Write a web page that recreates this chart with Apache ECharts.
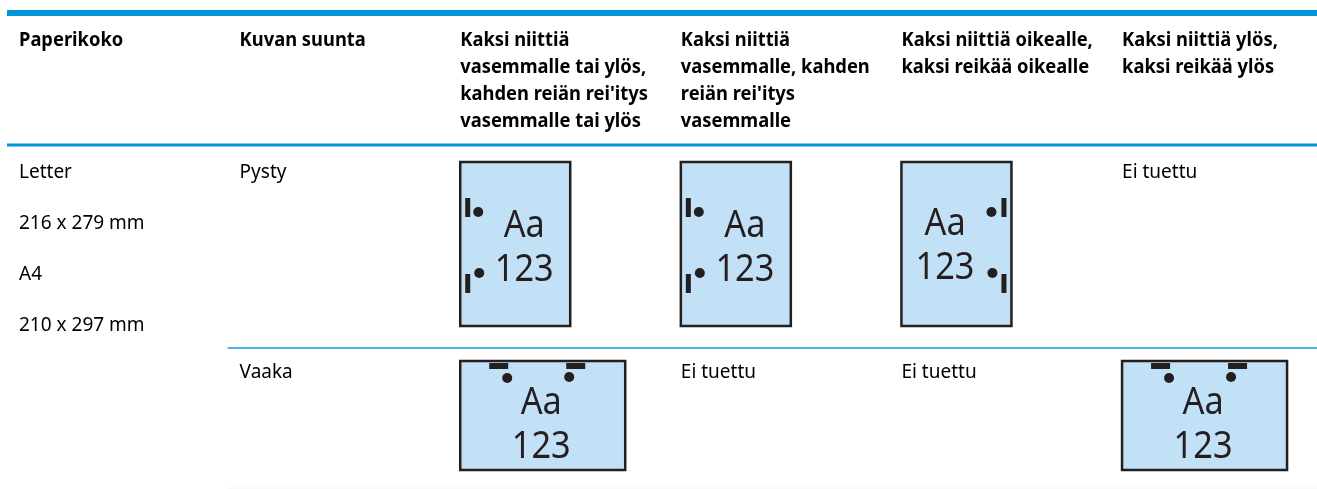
<!DOCTYPE html>
<html>
<head>
<meta charset="utf-8">
<style>
  html, body { margin: 0; padding: 0; background: #fff; }
  #main { width: 1317px; height: 489px; }
</style>
<script src="https://cdn.jsdelivr.net/npm/echarts@6/dist/echarts.min.js"></script>
</head>
<body>
<div id="main"></div>
<script>
// table content
const columnHeaders = [
  ['Paperikoko'],
  ['Kuvan suunta'],
  ['Kaksi niittiä', 'vasemmalle tai ylös,', 'kahden reiän rei\'itys', 'vasemmalle tai ylös'],
  ['Kaksi niittiä', 'vasemmalle, kahden', 'reiän rei\'itys', 'vasemmalle'],
  ['Kaksi niittiä oikealle,', 'kaksi reikää oikealle'],
  ['Kaksi niittiä ylös,', 'kaksi reikää ylös']
];
const paperSizes = ['Letter', '216 x 279 mm', 'A4', '210 x 297 mm'];
const orientations = ['Pysty', 'Vaaka'];
const iconLabels = ['Aa', '123'];
const notSupported = 'Ei tuettu';
// one list per orientation, one entry per finishing column
const portraitCells = ['left', 'left', 'right', 'none'];
const landscapeCells = ['top', 'none', 'none', 'top'];

// layout, px in the y axis units
const rowTop = [16, 147, 347];
const ruleY = [13, 145, 348, 488];
const X_MAX = 5.938;
const INK = '#231f20';
const PAGE = '#c2e0f6';
const BODY_FONT = '"Noto Sans"';

const rect = (x, y, width, height, style) => ({ type: 'rect', shape: { x, y, width, height }, style });
const dot = (cx, cy) => ({ type: 'circle', shape: { cx, cy, r: 5 }, style: { fill: INK } });
const label = (text, x, y, style, scaleX) => ({
  type: 'text', x, y, scaleX: scaleX || 1,
  style: Object.assign({ text, fill: '#000', textVerticalAlign: 'middle', fontFamily: BODY_FONT, fontSize: 19 }, style)
});

const pageIcon = (kind) => {
  const glyph = { fill: INK, fontSize: 39, fontFamily: BODY_FONT, textAlign: 'center' };
  if (kind === 'top') {
    return [
      rect(12, 14, 165, 109, { fill: PAGE, stroke: INK, lineWidth: 2.5 }),
      rect(41, 16, 19, 6, { fill: INK }),
      rect(118, 16, 19, 6, { fill: INK }),
      dot(59, 31), dot(121, 30),
      label(iconLabels[0], 93, 56, glyph, 0.88),
      label(iconLabels[1], 93, 100, glyph, 0.88)
    ];
  }
  const right = kind === 'right';
  const cx = right ? 55.6 : 76;
  return [
    rect(12, 15, 110, 164, { fill: PAGE, stroke: INK, lineWidth: 2.5 }),
    rect(right ? 112 : 17, 51, 5, 19, { fill: INK }),
    rect(right ? 112 : 17, 127, 5, 19, { fill: INK }),
    dot(right ? 102 : 30, 65), dot(right ? 103 : 31, 126),
    label(iconLabels[0], cx, right ? 77 : 79, glyph, 0.88),
    label(iconLabels[1], cx, right ? 121 : 123, glyph, 0.88)
  ];
};

// [column, row, content]
const cells = [];
columnHeaders.forEach((lines, c) => cells.push([c, 0, { head: lines }]));
cells.push([0, 1, { sizes: paperSizes }]);
orientations.forEach((name, r) => cells.push([1, r + 1, { text: name }]));
[portraitCells, landscapeCells].forEach((list, r) => {
  list.forEach((kind, i) => {
    cells.push([i + 2, r + 1, kind === 'none' ? { text: notSupported } : { icon: kind }]);
  });
});

const renderCell = (params, api) => {
  const content = cells[params.dataIndex][2];
  const origin = api.coord([api.value(0), rowTop[api.value(1)]]);
  let children = [];
  if (content.head) {
    children = content.head.map((line, i) => label(line, 12, 24.5 + i * 27, {
      fontWeight: 'bold', fontSize: 19
    }, 0.965));
  } else if (content.sizes) {
    children = content.sizes.map((line, i) => label(line, 12, 25.5 + i * 51));
  } else if (content.text) {
    children = [label(content.text, 12, 25.5)];
  } else {
    children = pageIcon(content.icon);
  }
  return { type: 'group', x: origin[0], y: origin[1], children };
};

const chart = echarts.init(document.getElementById('main'));
chart.setOption({
  animation: false,
  grid: { left: 7, right: 0, top: 0, bottom: 0 },
  xAxis: { type: 'value', min: 0, max: X_MAX, show: false },
  yAxis: { type: 'value', min: 0, max: 489, inverse: true, show: false },
  series: [{
    type: 'custom',
    coordinateSystem: 'cartesian2d',
    renderItem: renderCell,
    encode: { x: 0, y: 1 },
    data: cells.map((c) => [c[0], c[1]]),
    silent: true
  }, {
    type: 'line',
    symbol: 'none',
    silent: true,
    lineStyle: { color: '#0096d6', width: 6 },
    data: [[0, ruleY[0]], [X_MAX, ruleY[0]]]
  }, {
    type: 'line',
    symbol: 'none',
    silent: true,
    lineStyle: { color: '#0096d6', width: 3 },
    data: [[0, ruleY[1]], [X_MAX, ruleY[1]]]
  }, {
    type: 'line',
    symbol: 'none',
    silent: true,
    lineStyle: { color: '#4db5e3', width: 2 },
    data: [[1, ruleY[2]], [X_MAX, ruleY[2]]]
  }, {
    type: 'line',
    symbol: 'none',
    silent: true,
    lineStyle: { color: '#eef6fa', width: 1 },
    data: [[1, ruleY[3]], [X_MAX, ruleY[3]]]
  }]
});
</script>
</body>
</html>
